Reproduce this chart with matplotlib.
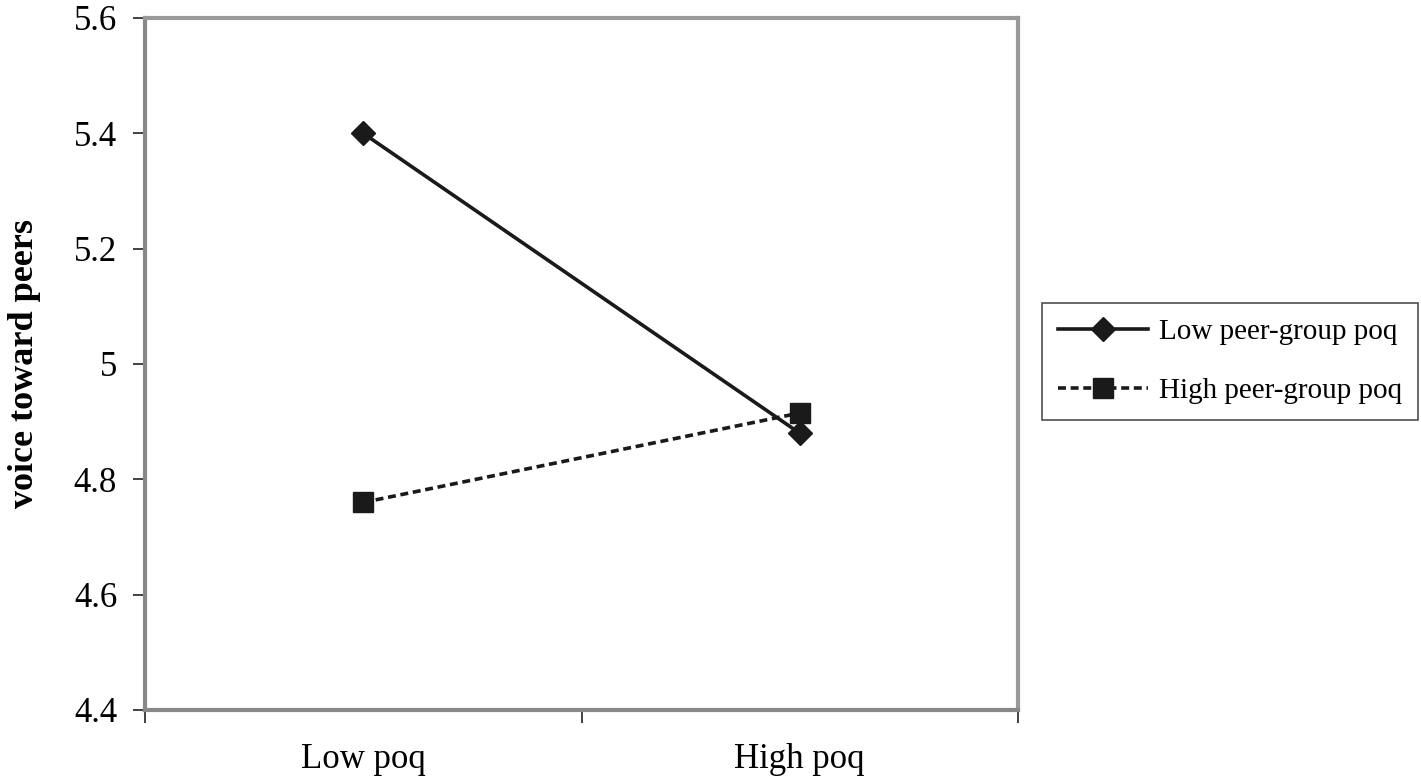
import matplotlib
matplotlib.use("Agg")
import matplotlib.pyplot as plt
from matplotlib.ticker import FixedLocator, NullFormatter

categories = ["Low poq", "High poq"]
series_names = ["Low peer-group poq", "High peer-group poq"]
low_peer = [5.40, 4.88]
high_peer = [4.76, 4.915]
yticks = [4.4, 4.6, 4.8, 5.0, 5.2, 5.4, 5.6]
ytick_labels = ["4.4", "4.6", "4.8", "5", "5.2", "5.4", "5.6"]

plt.rcParams['font.family'] = ['Liberation Serif', 'DejaVu Serif']

fig = plt.figure(figsize=(14.21, 7.79), dpi=100)
ax = fig.add_axes([145/1421, 1-710/779, (1018-145)/1421, (710-18)/779])

x = list(range(len(categories)))
ax.plot(x, low_peer, color='#1a1a1a', lw=2.6, ls='-', marker='D', ms=12,
        label=series_names[0], zorder=3)
ax.plot(x, high_peer, color='#1a1a1a', lw=2.6, ls=(0, (2.2, 1.3)), marker='s', ms=15,
        label=series_names[1], zorder=3)

ax.set_xlim(-0.5, len(categories) - 0.5)
ax.set_ylim(4.4, 5.6)
ax.set_yticks(yticks)
ax.set_yticklabels(ytick_labels, fontsize=25)
ax.xaxis.set_major_locator(FixedLocator([-0.5, 0.5, 1.5]))
ax.xaxis.set_major_formatter(NullFormatter())
ax.xaxis.set_minor_locator(FixedLocator(x))
ax.set_xticklabels(categories, minor=True, fontsize=25)
ax.tick_params(axis='x', which='major', direction='out', length=9, width=1.2, color='#222222')
ax.tick_params(axis='x', which='minor', length=0, pad=24)
ax.tick_params(axis='y', direction='out', length=9, width=1.2, color='#222222', pad=11)

for s in ['top', 'right']:
    ax.spines[s].set_color('#999999')
    ax.spines[s].set_linewidth(3)
for s in ['left', 'bottom']:
    ax.spines[s].set_color('#888888')
    ax.spines[s].set_linewidth(3)

ax.set_ylabel("voice toward peers", fontsize=26, fontweight='bold', labelpad=24)

leg = fig.legend(loc='upper left', bbox_to_anchor=(1042/1421, 1-303/779), fontsize=21,
                 frameon=True, fancybox=False, edgecolor='#222222', handlelength=3.1,
                 borderpad=0.55, labelspacing=1.1, handletextpad=0.35, borderaxespad=0)
leg.get_frame().set_linewidth(1.2)

fig.savefig("out.png", dpi=100)
